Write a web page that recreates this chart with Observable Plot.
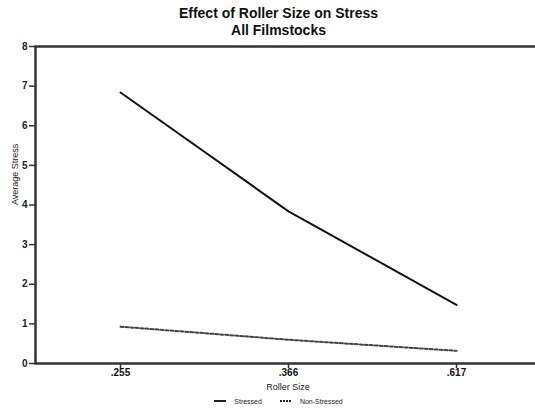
<!DOCTYPE html>
<html><head><meta charset="utf-8">
<script src="https://cdn.jsdelivr.net/npm/d3@7"></script>
<script src="https://cdn.jsdelivr.net/npm/@observablehq/plot@0.6"></script>
<style>
body{margin:0;background:#fff;font-family:"Liberation Sans",Arial,sans-serif;width:535px;height:411px;overflow:hidden}
#title{height:40px;text-align:center;font-weight:bold;font-size:14px;line-height:17px;padding-left:22px;padding-top:5px;box-sizing:border-box;color:#111}
#legend{display:flex;justify-content:center;align-items:center;font-size:7px;height:16px;padding-left:22px;color:#222}
#legend span{display:inline-flex;align-items:center;margin:0 9px}
#legend svg{margin-right:8px}
</style></head>
<body>
<div id="title">Effect of Roller Size on Stress<br>All Filmstocks</div>
<div id="chart"></div>
<div id="legend"></div>
<script>
const rollerSizes = [".255", ".366", ".617"];
const stressed = [6.84, 3.84, 1.48];
const nonStressed = [0.93, 0.60, 0.32];
const seriesNames = ["Stressed", "Non-Stressed"];
const yTicks = [0,1,2,3,4,5,6,7,8];

const rows = [];
rollerSizes.forEach((r,i)=>{
  rows.push({size:r, value:stressed[i], series:seriesNames[0]});
  rows.push({size:r, value:nonStressed[i], series:seriesNames[1]});
});

const plot = Plot.plot({
  width: 535, height: 353,
  marginLeft: 35, marginRight: -5, marginTop: 6, marginBottom: 30,
  style:{fontFamily:"Liberation Sans, Arial, sans-serif", background:"#fff"},
  x:{type:"point", domain: rollerSizes, padding:0.5, label:null},
  y:{domain:[0,8], label:null},
  marks:[
    Plot.frame({stroke:"#333", strokeWidth:2.5, strokeOpacity:1}),
    Plot.axisY(yTicks, {tickSize:6, tickPadding:2, fontSize:10, fontWeight:"bold", stroke:"#333", strokeWidth:1.5, fill:"#222"}),
    Plot.axisX({tickSize:5, tickPadding:0, fontSize:10, fontWeight:"bold", stroke:"#333", strokeWidth:1.5, fill:"#111", label:null}),
    Plot.text(["Roller Size"], {frameAnchor:"bottom", dy:26, fontSize:9, fill:"#222"}),
    Plot.text(["Average Stress"], {frameAnchor:"left", rotate:-90, dx:-20, fontSize:9, fill:"#222"}),
    Plot.line(rows.filter(d=>d.series===seriesNames[0]), {x:"size", y:"value", stroke:"#111", strokeWidth:2}),
    Plot.line(rows.filter(d=>d.series===seriesNames[1]), {x:"size", y:"value", stroke:"#444", strokeWidth:2, strokeDasharray:"3,2"})
  ]
});
document.getElementById("chart").appendChild(plot);

const leg = document.getElementById("legend");
seriesNames.forEach((n,i)=>{
  const s = document.createElement("span");
  s.innerHTML = `<svg width="12" height="4"><line x1="0" x2="12" y1="2" y2="2" stroke="#222" stroke-width="2" ${i?'stroke-dasharray="2,1"':''}/></svg>${n}`;
  leg.appendChild(s);
});
</script>
</body></html>
